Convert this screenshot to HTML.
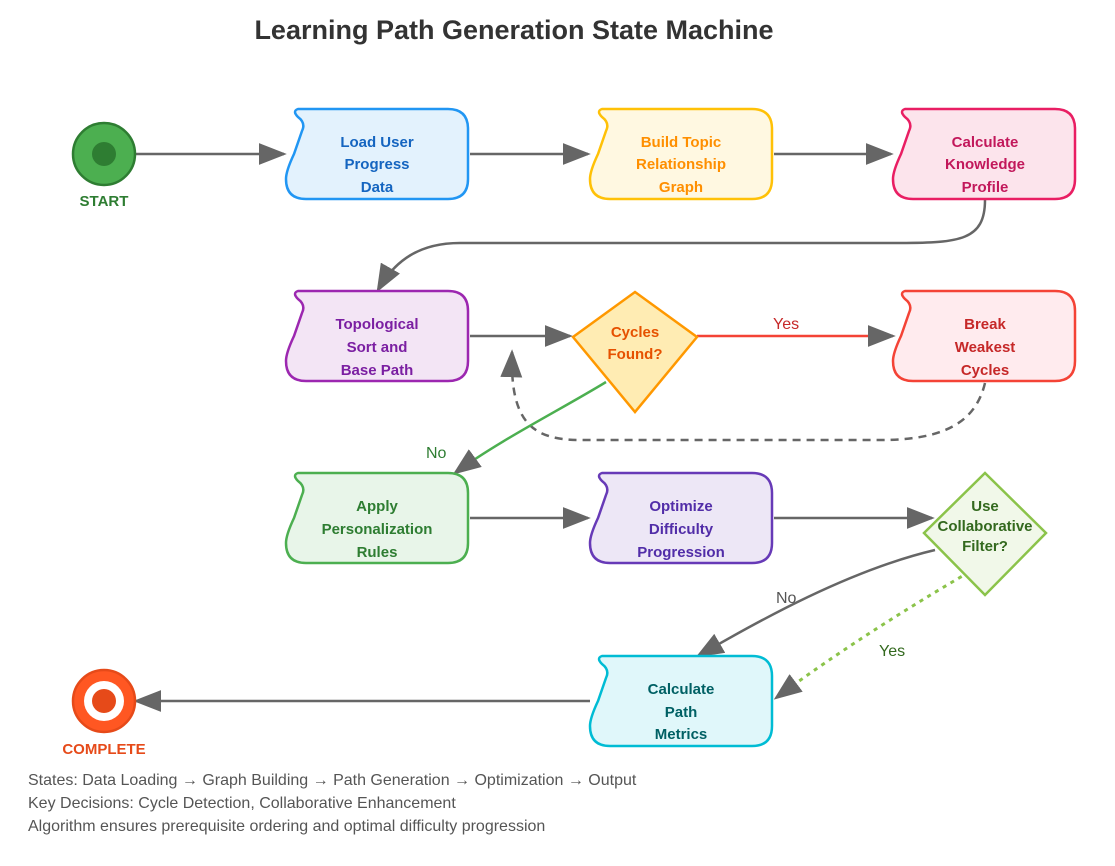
<!DOCTYPE html>
<html><head><meta charset="utf-8"><style>
body{margin:0;background:#fff;}
svg{display:block;font-family:"Liberation Sans",Arial,sans-serif;}
.t{font-weight:bold;font-size:15px;text-anchor:middle;}
.l{font-size:16px;}
</style></head><body>
<svg width="1115" height="866" viewBox="0 0 1115 866">
<defs>
<marker id="ag" markerWidth="10" markerHeight="10" refX="9" refY="5" orient="auto" markerUnits="userSpaceOnUse" viewBox="0 0 10 10"><path d="M0,0 L10,5 L0,10 Z" fill="#666"/></marker>
<marker id="a" viewBox="0 0 10 10" refX="9" refY="5" markerWidth="28" markerHeight="22" orient="auto" markerUnits="userSpaceOnUse" preserveAspectRatio="none"><path d="M0,0 L10,5 L0,10 Z" fill="#666"/></marker>
<marker id="ar" viewBox="0 0 10 10" refX="9" refY="5" markerWidth="28" markerHeight="22" orient="auto" markerUnits="userSpaceOnUse" preserveAspectRatio="none"><path d="M0,0 L10,5 L0,10 Z" fill="#666"/></marker>
<path id="sh" d="M12,0 H162 Q182,0 182,20 V70 Q182,90 162,90 H20 Q0,90 0,70 Q0,62 8,45 L16,22 Q20,14 12,8 Q6,2 12,0 Z"/>
</defs>
<text x="514" y="39" text-anchor="middle" font-size="27" font-weight="bold" fill="#333">Learning Path Generation State Machine</text>

<!-- edges -->
<g fill="none" stroke="#666" stroke-width="2.5">
<path d="M136,154 H284" marker-end="url(#a)"/>
<path d="M470,154 H588" marker-end="url(#a)"/>
<path d="M774,154 H891" marker-end="url(#a)"/>
<path d="M985,200 C985,240 960,243 900,243 H460 C420,243 395,260 378,290" marker-end="url(#a)"/>
<path d="M470,336 H570" marker-end="url(#a)"/>
<path d="M470,518 H588" marker-end="url(#a)"/>
<path d="M774,518 H932" marker-end="url(#a)"/>
<path d="M935,550 C850,570 760,620 698,656" marker-end="url(#a)"/>
<path d="M590,701 H136" marker-end="url(#a)"/>
<path d="M985,383 C975,425 940,440 880,440 H580 C530,440 510,420 512,352" stroke-dasharray="8,6" marker-end="url(#a)"/>
</g>
<path d="M697,336 H893" stroke="#f44336" stroke-width="2.5" fill="none" marker-end="url(#a)"/>
<path d="M606,382 C560,410 500,440 455,473" stroke="#4caf50" stroke-width="2.5" fill="none" marker-end="url(#a)"/>
<path d="M985,563 C920,600 840,650 776,698" stroke="#8bc34a" stroke-width="3" stroke-dasharray="4,5" fill="none" marker-end="url(#a)"/>
<text x="773" y="329" class="l" fill="#c62828">Yes</text>
<text x="426" y="458" class="l" fill="#2e7d32">No</text>
<text x="776" y="603" class="l" fill="#555">No</text>
<text x="879" y="656" class="l" fill="#33691e">Yes</text>

<!-- start/end -->
<circle cx="104" cy="154" r="31" fill="#4caf50" stroke="#2e7d32" stroke-width="2.5"/>
<circle cx="104" cy="154" r="12" fill="#2e7d32"/>
<text x="104" y="206" class="t" fill="#2e7d32">START</text>
<circle cx="104" cy="701" r="31" fill="#ff5722" stroke="#e64a19" stroke-width="2.5"/>
<circle cx="104" cy="701" r="20" fill="#fff"/>
<circle cx="104" cy="701" r="12" fill="#e64a19"/>
<text x="104" y="754" class="t" fill="#e64a19">COMPLETE</text>

<!-- nodes -->
<g stroke-width="2.5">
<use href="#sh" x="286" y="109" fill="#e3f2fd" stroke="#2196f3"/>
<use href="#sh" x="590" y="109" fill="#fff8e1" stroke="#ffc107"/>
<use href="#sh" x="893" y="109" fill="#fce4ec" stroke="#e91e63"/>
<use href="#sh" x="286" y="291" fill="#f3e5f5" stroke="#9c27b0"/>
<use href="#sh" x="893" y="291" fill="#ffebee" stroke="#f44336"/>
<use href="#sh" x="286" y="473" fill="#e8f5e9" stroke="#4caf50"/>
<use href="#sh" x="590" y="473" fill="#ede7f6" stroke="#673ab7"/>
<use href="#sh" x="590" y="656" fill="#e0f7fa" stroke="#00bcd4"/>
<path d="M635,292 L697,337 L635,412 L573,337 Z" fill="#ffecb3" stroke="#ff9800"/>
<path d="M985,473 L1046,533 L985,595 L924,533 Z" fill="#f1f8e9" stroke="#8bc34a"/>
</g>
<g class="t">
<text x="377" y="147" class="t" fill="#1565c0">Load User</text><text x="377" y="169" class="t" fill="#1565c0">Progress</text><text x="377" y="192" class="t" fill="#1565c0">Data</text>
<text x="681" y="147" class="t" fill="#ff8f00">Build Topic</text><text x="681" y="169" class="t" fill="#ff8f00">Relationship</text><text x="681" y="192" class="t" fill="#ff8f00">Graph</text>
<text x="985" y="147" class="t" fill="#c2185b">Calculate</text><text x="985" y="169" class="t" fill="#c2185b">Knowledge</text><text x="985" y="192" class="t" fill="#c2185b">Profile</text>
<text x="377" y="329" class="t" fill="#7b1fa2">Topological</text><text x="377" y="352" class="t" fill="#7b1fa2">Sort and</text><text x="377" y="375" class="t" fill="#7b1fa2">Base Path</text>
<text x="985" y="329" class="t" fill="#c62828">Break</text><text x="985" y="352" class="t" fill="#c62828">Weakest</text><text x="985" y="375" class="t" fill="#c62828">Cycles</text>
<text x="377" y="511" class="t" fill="#2e7d32">Apply</text><text x="377" y="534" class="t" fill="#2e7d32">Personalization</text><text x="377" y="557" class="t" fill="#2e7d32">Rules</text>
<text x="681" y="511" class="t" fill="#512da8">Optimize</text><text x="681" y="534" class="t" fill="#512da8">Difficulty</text><text x="681" y="557" class="t" fill="#512da8">Progression</text>
<text x="681" y="694" class="t" fill="#006064">Calculate</text><text x="681" y="717" class="t" fill="#006064">Path</text><text x="681" y="739" class="t" fill="#006064">Metrics</text>
<text x="635" y="337" class="t" font-size="14" fill="#e65100">Cycles</text><text x="635" y="359" class="t" font-size="14" fill="#e65100">Found?</text>
<text x="985" y="511" class="t" font-size="12" fill="#33691e">Use</text><text x="985" y="531" class="t" font-size="12" fill="#33691e">Collaborative</text><text x="985" y="551" class="t" font-size="12" fill="#33691e">Filter?</text>
</g>
<g font-size="16" fill="#555">
<text x="28" y="785">States: Data Loading → Graph Building → Path Generation → Optimization → Output</text>
<text x="28" y="808">Key Decisions: Cycle Detection, Collaborative Enhancement</text>
<text x="28" y="831">Algorithm ensures prerequisite ordering and optimal difficulty progression</text>
</g>
</svg>
</body></html>
